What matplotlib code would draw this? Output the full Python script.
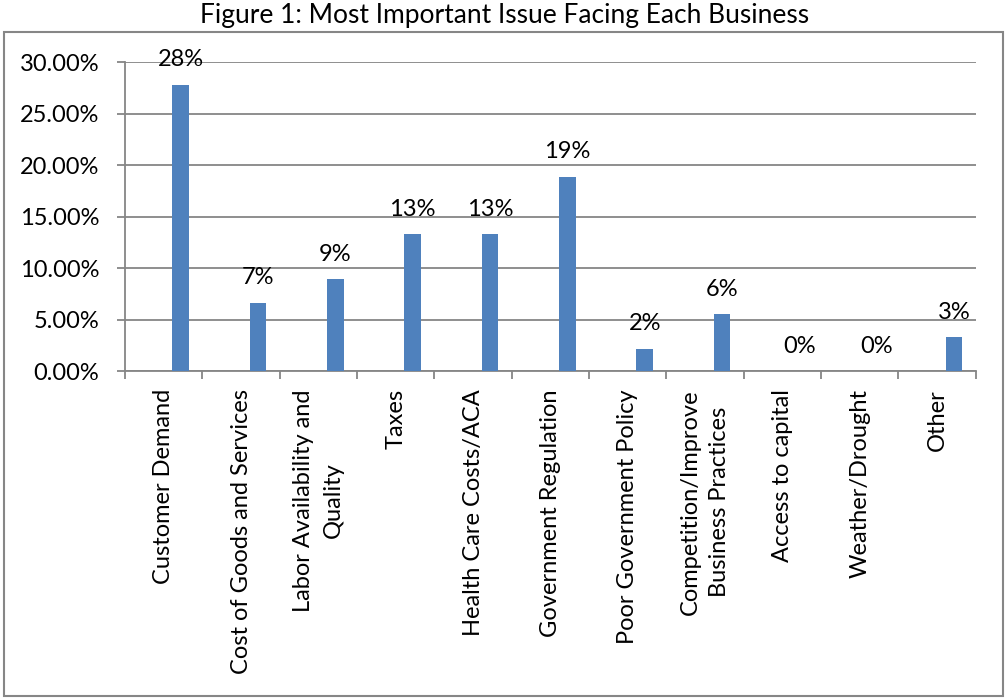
import matplotlib.pyplot as plt
import numpy as np

categories = [
    "Customer Demand",
    "Cost of Goods and Services",
    "Labor Availability and\nQuality",
    "Taxes",
    "Health Care Costs/ACA",
    "Government Regulation",
    "Poor Government Policy",
    "Competition/Improve\nBusiness Practices",
    "Access to capital",
    "Weather/Drought",
    "Other",
]
shares = [27.83, 6.63, 8.9, 13.3, 13.3, 18.87, 2.17, 5.53, 0.0, 0.0, 3.27]
y_ticks = [0, 5, 10, 15, 20, 25, 30]

plt.rcParams['font.family'] = ['Lato', 'DejaVu Sans']
grey = '#868686'
fs = 17

fig = plt.figure(figsize=(10.06, 6.98), dpi=100)
ax = fig.add_axes([125 / 1006, 1 - 371 / 698, 850.7 / 1006, 308.7 / 698])

x = np.arange(len(categories))
bars = ax.bar(x + 0.22, shares, width=0.215, color='#4F81BD', zorder=3)

for b, v in zip(bars, shares):
    ax.annotate(f"{v:.0f}%", (b.get_x() + b.get_width() / 2, v),
                xytext=(0, 18), textcoords='offset points',
                ha='center', va='center', fontsize=fs)

ax.set_xlim(-0.5, len(categories) - 0.5)
ax.set_ylim(0, 30)
ax.set_yticks(y_ticks)
ax.set_yticklabels([f"{t:.2f}%" for t in y_ticks], fontsize=fs)
ax.yaxis.grid(True, color=grey, lw=1.3, zorder=0)

ax.set_xticks(np.arange(-0.5, len(categories)), minor=False)
ax.set_xticklabels([])
ax.set_xticks(x, minor=True)
ax.set_xticklabels(categories, minor=True, rotation=90, fontsize=fs,
                   ha='center', va='top', multialignment='center')
for lab in ax.get_xticklabels(minor=True):
    lab.set_linespacing(1.5)
ax.tick_params(axis='x', which='minor', length=0, pad=13)
ax.tick_params(axis='x', which='major', length=6, color=grey, width=1.3)
ax.tick_params(axis='y', length=6, color=grey, width=1.3, pad=12.5)

for side in ['top', 'right']:
    ax.spines[side].set_visible(False)
for side in ['left', 'bottom']:
    ax.spines[side].set_color(grey)
    ax.spines[side].set_linewidth(1.3)

fig.text(505 / 1006, 1 - 16 / 698, "Figure 1: Most Important Issue Facing Each Business",
         ha='center', va='center', fontsize=19)
fig.patches.append(plt.Rectangle((4 / 1006, 2 / 698), 999 / 1006, 664 / 698,
                                 transform=fig.transFigure, fill=False,
                                 edgecolor=grey, lw=1.5))

fig.savefig('out.png', dpi=100)
